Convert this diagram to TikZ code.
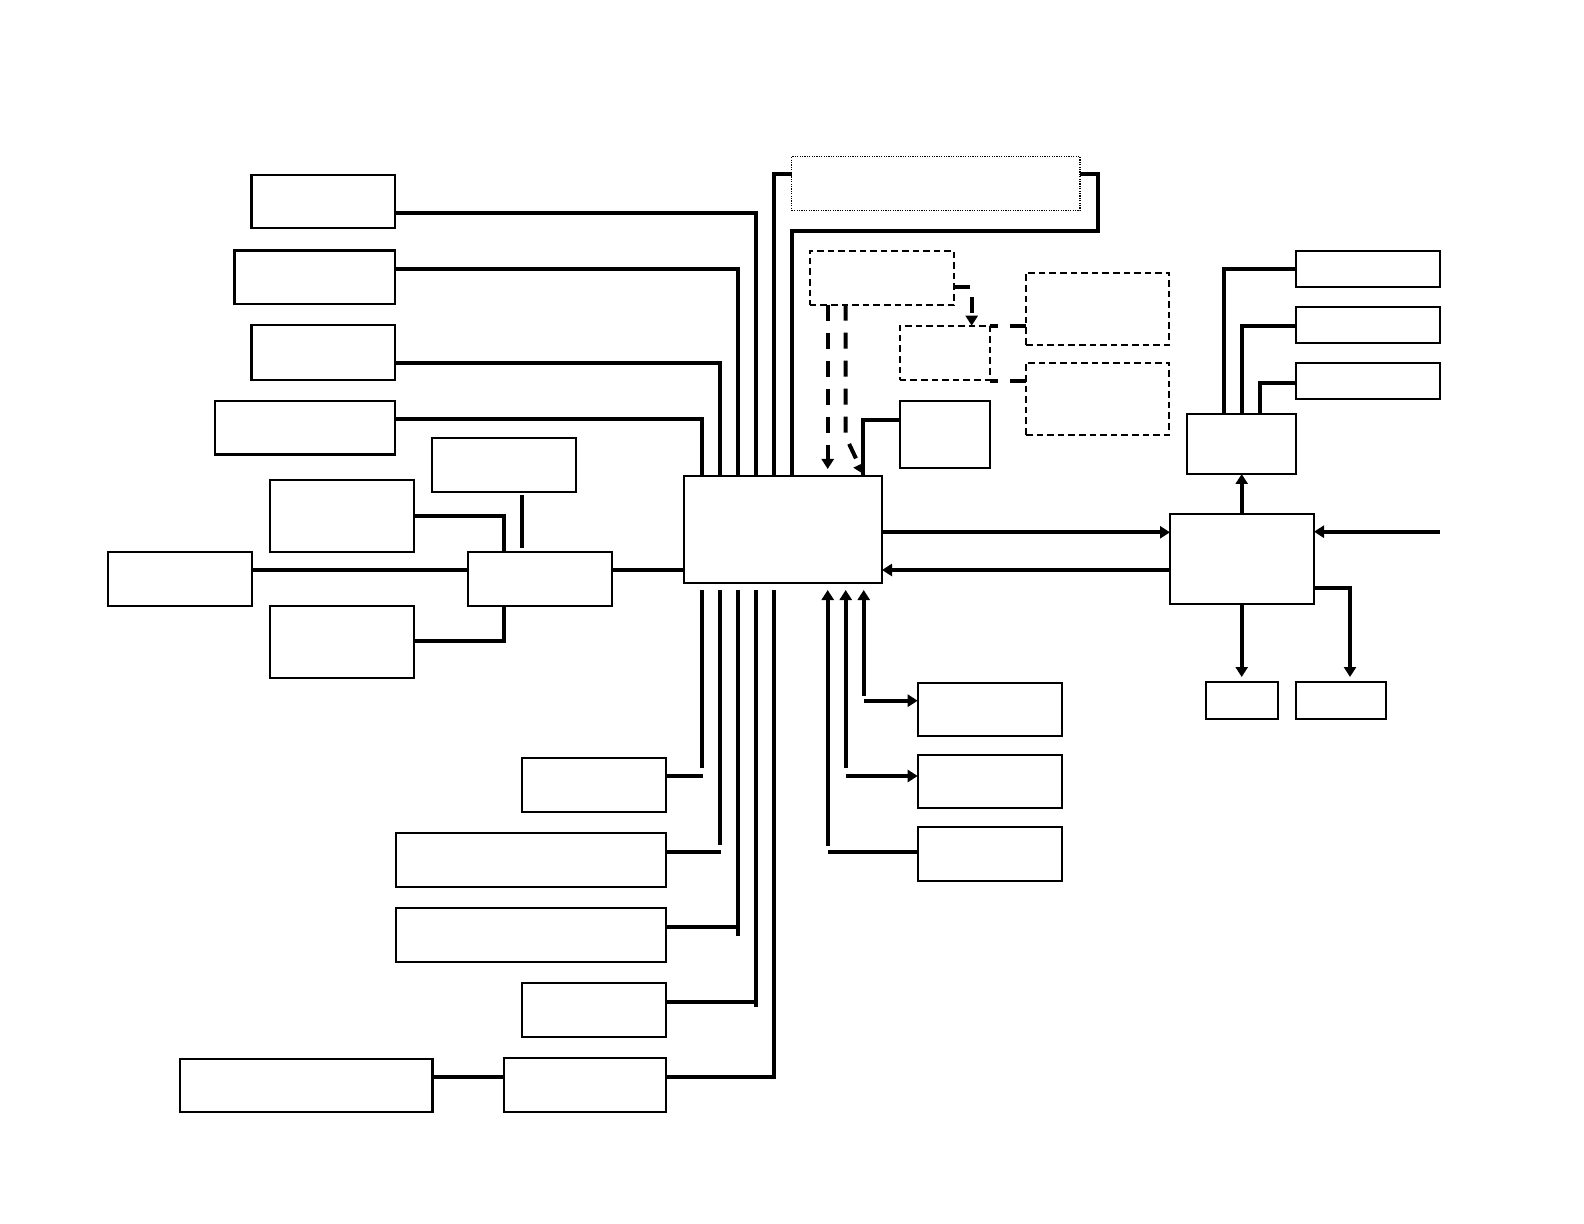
\documentclass[tikz,border=0pt]{standalone}
\usetikzlibrary{arrows.meta,fit}
\begin{document}
\begin{tikzpicture}[x=0.5pt,y=-0.5pt,
  box/.style={draw,line width=1.1pt,inner sep=0pt,outer sep=0pt},
  dbox/.style={draw,line width=1pt,dash pattern=on 3.3pt off 2pt,inner sep=0pt,outer sep=0pt},
  obox/.style={draw,line width=0.6pt,dash pattern=on 0.6pt off 0.6pt,inner sep=0pt,outer sep=0pt},
  wire/.style={line width=2pt},
  dwire/.style={line width=2pt,dash pattern=on 8pt off 6pt},
  swire/.style={line width=2pt,dash pattern=on 4pt off 6pt on 10pt off 6pt},
  tip/.style={-{Triangle[length=5pt,width=6pt]}},
  rtip/.style={{Triangle[length=5pt,width=6pt]}-}]
\path[use as bounding box] (0,0) rectangle (1584,1224);
% boxes
\node[box,fit={(251.5,174.8) (395,228.3)}] (A) {};
\node[box,fit={(234.4,250.5) (395,304)}] (B) {};
\node[box,fit={(251.5,325) (395,380)}] (C) {};
\node[box,fit={(215,401) (395,454.6)}] (D) {};
\node[box,fit={(431.7,437.7) (576.3,492)}] (E) {};
\node[box,fit={(269.7,480) (414,552)}] (F) {};
\node[box,fit={(108,551.7) (252.3,606)}] (G) {};
\node[box,fit={(468,551.7) (612.3,606)}] (H) {};
\node[box,fit={(269.7,606) (414,677.7)}] (I) {};
\node[box,fit={(684,476) (882,583.3)}] (cpu) {};
\node[obox,fit={(791.7,156.7) (1080,210.7)}] (P) {};
\node[dbox,fit={(809.7,250.7) (954,304.7)}] (Q) {};
\node[dbox,fit={(899.7,325.7) (990,379.7)}] (R) {};
\node[dbox,fit={(1026,272.7) (1169.3,344.7)}] (S) {};
\node[dbox,fit={(1026,362.7) (1169.3,434.7)}] (T) {};
\node[box,fit={(899.7,400.7) (990,468.3)}] (U) {};
\node[box,fit={(1187.3,413.7) (1295.7,474)}] (V) {};
\node[box,fit={(1295.7,250.7) (1440,286.7)}] (W1) {};
\node[box,fit={(1295.7,306.7) (1440,342.7)}] (W2) {};
\node[box,fit={(1295.7,362.7) (1440,398.7)}] (W3) {};
\node[box,fit={(1170,514) (1314,604)}] (X) {};
\node[box,fit={(1205.7,682.3) (1278.3,719)}] (Y1) {};
\node[box,fit={(1295.7,682.3) (1386,719)}] (Y2) {};
\node[box,fit={(917.7,682.7) (1062,736)}] (Z1) {};
\node[box,fit={(917.7,755) (1062,808)}] (Z2) {};
\node[box,fit={(917.7,827) (1062,881)}] (Z3) {};
\node[box,fit={(521.7,757.7) (666,812)}] (J) {};
\node[box,fit={(396,832.7) (666,886.7)}] (K) {};
\node[box,fit={(396,907.7) (666,961.7)}] (L) {};
\node[box,fit={(521.7,982.7) (666,1036.7)}] (M) {};
\node[box,fit={(504,1057.7) (666,1111.7)}] (N) {};
\node[box,fit={(179.8,1058.7) (432.4,1112.2)}] (O) {};
\coordinate (ext) at (1440,531.7);
% top-left buses
\draw[wire] (A.east |- 0,213) -| (755.7,0 |- cpu.north);
\draw[wire] (B.east |- 0,268.7) -| (737.7,0 |- cpu.north);
\draw[wire] (C.east |- 0,362.7) -| (720,0 |- cpu.north);
\draw[wire] (D.east |- 0,419.3) -| (701.7,0 |- cpu.north);
\draw[wire] (P.west |- 0,174.3) -| (774,0 |- cpu.north);
\draw[wire] (P.east |- 0,174.3) -- (1097.7,174.3) -- (1097.7,230.7) -| (791.7,0 |- cpu.north);
\draw[wire] (U.west |- 0,420) -| (863.3,0 |- cpu.north);
% dashed
\draw[dwire,tip] (827.7,0 |- Q.south) -- (827.7,469);
\draw[dwire,tip] (845.7,0 |- Q.south) -- (845.7,436.7) -- (863.3,474);
\draw[dwire,tip] (Q.east |- 0,286.7) -| (971.7,0 |- R.north);
\draw[swire] (R.east |- 0,325.7) -- (S.west |- 0,325.7);
\draw[swire] (R.east |- 0,381) -- (T.west |- 0,381);
% right side
\draw[wire,tip] (cpu.east |- 0,532.3) -- (X.west |- 0,532.3);
\draw[wire,tip] (X.west |- 0,570) -- (cpu.east |- 0,570);
\draw[wire,tip] (ext) -- (X.east |- ext);
\draw[wire,tip] (1241.7,0 |- X.north) -- (1241.7,0 |- V.south);
\draw[wire,tip] (1241.7,0 |- X.south) -- (1241.7,677);
\draw[wire,tip] (X.east |- 0,588.3) -| (1350,677);
\draw[wire] (1224,0 |- V.north) |- (W1.west |- 0,268.7);
\draw[wire] (1242,0 |- V.north) |- (W2.west |- 0,326);
\draw[wire] (1260,0 |- V.north) |- (W3.west |- 0,382.7);
% left hub
\draw[wire] (G.east |- 0,570) -- (H.west |- 0,570);
\draw[wire] (H.east |- 0,570) -- (cpu.west |- 0,570);
\draw[wire] (F.east |- 0,516) -| (504,0 |- H.north);
\draw[wire] (I.east |- 0,641.3) -| (504,0 |- H.south);
\draw[wire] (522,495.5) -- (522,548.3);
% bottom-left buses
\draw[wire] (J.east |- 0,775.7) -- (703,775.7);
\draw[wire] (701.7,590) -- (701.7,768.3);
\draw[wire] (K.east |- 0,851.7) -- (721,851.7);
\draw[wire] (720,590) -- (720,845.3);
\draw[wire] (L.east |- 0,926.7) -- (738.7,926.7);
\draw[wire] (737.7,590) -- (737.7,935.7);
\draw[wire] (M.east |- 0,1001.7) -- (756.7,1001.7);
\draw[wire] (755.7,590) -- (755.7,1007.3);
\draw[wire] (N.east |- 0,1076.7) -- (774.7,1076.7);
\draw[wire] (773.7,590) -- (773.7,1079.3);
\draw[wire] (O.east |- 0,1076.7) -- (N.west |- 0,1076.7);
% bottom-right
\draw[wire,rtip] (863.7,590) -- (863.7,696);
\draw[wire,tip] (864,700.7) -- (Z1.west |- 0,700.7);
\draw[wire,rtip] (845.7,590) -- (845.7,768.3);
\draw[wire,tip] (846,776) -- (Z2.west |- 0,776);
\draw[wire,rtip] (827.7,590) -- (827.7,845.7);
\draw[wire] (828,852) -- (Z3.west |- 0,852);
\end{tikzpicture}
\end{document}
